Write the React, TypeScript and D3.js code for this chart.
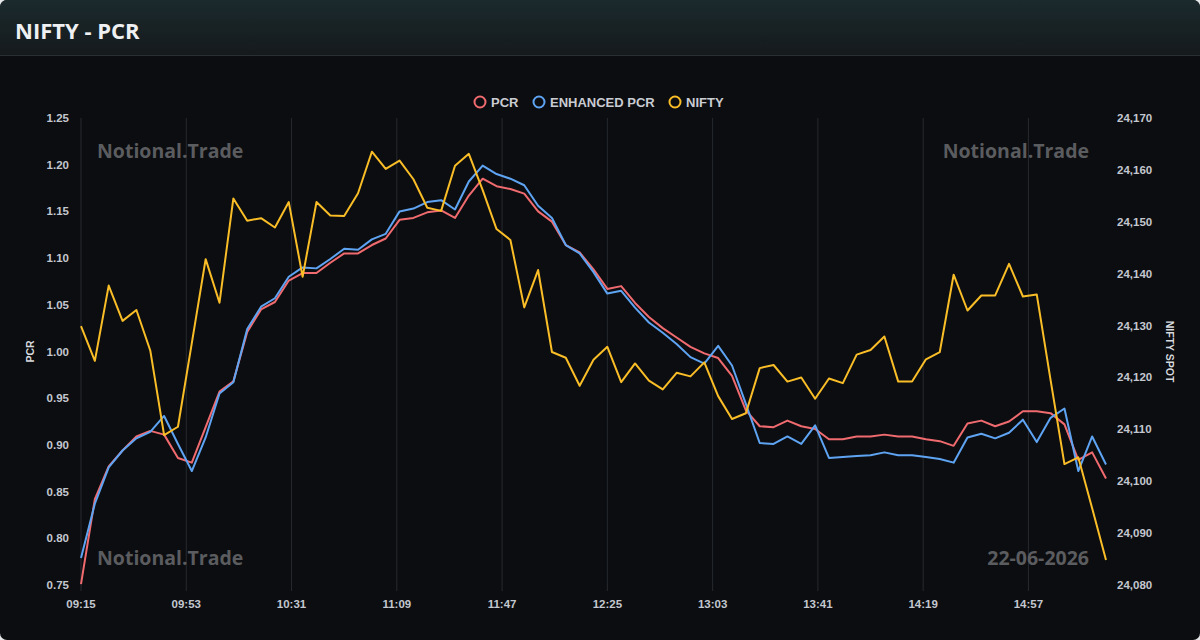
import React, { useEffect, useRef } from "react";
import * as d3 from "d3";

// 5-minute samples from 09:15 to 15:25
const START_MIN = 9 * 60 + 15;
const STEP_MIN = 5;

const pcr = [
  0.751, 0.842, 0.877, 0.894, 0.909, 0.915, 0.911, 0.886, 0.881, 0.919,
  0.957, 0.968, 1.021, 1.045, 1.053, 1.076, 1.084, 1.084, 1.095, 1.105,
  1.105, 1.114, 1.121, 1.141, 1.143, 1.149, 1.151, 1.143, 1.167, 1.185,
  1.177, 1.174, 1.169, 1.150, 1.139, 1.114, 1.106, 1.088, 1.067, 1.070,
  1.052, 1.037, 1.025, 1.015, 1.005, 0.998, 0.993, 0.974, 0.937, 0.920,
  0.919, 0.926, 0.920, 0.917, 0.906, 0.906, 0.909, 0.909, 0.911, 0.909,
  0.909, 0.906, 0.904, 0.899, 0.923, 0.926, 0.920, 0.925, 0.936, 0.936,
  0.934, 0.922, 0.884, 0.892, 0.864,
];

const enhancedPcr = [
  0.779, 0.837, 0.876, 0.894, 0.907, 0.914, 0.931, 0.901, 0.872, 0.908,
  0.955, 0.967, 1.024, 1.048, 1.057, 1.080, 1.090, 1.089, 1.099, 1.110,
  1.109, 1.120, 1.126, 1.150, 1.153, 1.160, 1.162, 1.152, 1.182, 1.199,
  1.190, 1.185, 1.178, 1.156, 1.143, 1.114, 1.105, 1.085, 1.062, 1.065,
  1.047, 1.031, 1.020, 1.008, 0.994, 0.987, 1.006, 0.985, 0.944, 0.902,
  0.901, 0.909, 0.901, 0.921, 0.886, 0.887, 0.888, 0.889, 0.892, 0.889,
  0.889, 0.887, 0.885, 0.881, 0.908, 0.912, 0.907, 0.913, 0.927, 0.903,
  0.929, 0.939, 0.872, 0.909, 0.879,
];

const nifty = [
  24129.9, 24123.2, 24137.7, 24130.9, 24133.0, 24125.2, 24108.9, 24110.5, 24126.6, 24142.8,
  24134.4, 24154.5, 24150.2, 24150.7, 24148.9, 24153.8, 24139.4, 24153.8, 24151.2, 24151.1,
  24155.5, 24163.5, 24160.2, 24161.8, 24158.2, 24152.7, 24152.1, 24160.8, 24163.1, 24156.1,
  24148.6, 24146.5, 24133.5, 24140.7, 24124.9, 24123.8, 24118.4, 24123.4, 24125.9, 24119.1,
  24122.7, 24119.4, 24117.7, 24120.9, 24120.2, 24122.9, 24116.4, 24112.0, 24113.1, 24121.8,
  24122.4, 24119.2, 24120.0, 24115.9, 24119.8, 24118.9, 24124.4, 24125.3, 24127.9, 24119.2,
  24119.2, 24123.5, 24124.9, 24139.8, 24132.9, 24135.8, 24135.8, 24141.9, 24135.6, 24136.0,
  24119.5, 24103.3, 24104.6, 24094.8, 24084.8,
];

const xTickLabels = ["09:15", "09:53", "10:31", "11:09", "11:47", "12:25", "13:03", "13:41", "14:19", "14:57"];
const pcrTicks = [0.75, 0.8, 0.85, 0.9, 0.95, 1.0, 1.05, 1.1, 1.15, 1.2, 1.25];
const niftyTicks = [24080, 24090, 24100, 24110, 24120, 24130, 24140, 24150, 24160, 24170];

const series = [
  { name: "PCR", values: pcr, color: "#f06b6f", axis: "left" },
  { name: "ENHANCED PCR", values: enhancedPcr, color: "#5ea4f3", axis: "left" },
  { name: "NIFTY", values: nifty, color: "#f9bd27", axis: "right" },
];

const W = 1200;
const H = 640;
const plot = { left: 81, right: 1106, top: 118, bottom: 585 };

const toMin = (s: string) => {
  const [h, m] = s.split(":").map(Number);
  return h * 60 + m;
};

export default function App() {
  const ref = useRef<SVGGElement>(null);

  useEffect(() => {
    const g = d3.select(ref.current);
    g.selectAll("*").remove();

    const n = pcr.length;
    const x = d3
      .scaleLinear()
      .domain([START_MIN, START_MIN + (n - 1) * STEP_MIN])
      .range([plot.left, plot.right]);
    const yL = d3.scaleLinear().domain([0.75, 1.25]).range([plot.bottom, plot.top]);
    const yR = d3.scaleLinear().domain([24080, 24170]).range([plot.bottom, plot.top]);

    const tickFont = "'Liberation Sans', Arial, sans-serif";

    // vertical grid
    g.append("g")
      .selectAll("line")
      .data(xTickLabels)
      .join("line")
      .attr("x1", (d) => x(toMin(d)))
      .attr("x2", (d) => x(toMin(d)))
      .attr("y1", plot.top)
      .attr("y2", plot.bottom + 6)
      .attr("stroke", "#262a30")
      .attr("stroke-width", 1);

    // x labels
    g.append("g")
      .selectAll("text")
      .data(xTickLabels)
      .join("text")
      .attr("x", (d) => x(toMin(d)))
      .attr("y", 608)
      .attr("text-anchor", "middle")
      .attr("font-family", tickFont)
      .attr("font-size", 11.5)
      .attr("font-weight", 600)
      .attr("fill", "#c3c7cf")
      .text((d) => d);

    // left axis
    g.append("g")
      .selectAll("text")
      .data(pcrTicks)
      .join("text")
      .attr("x", 69)
      .attr("y", (d) => yL(d) + 4)
      .attr("text-anchor", "end")
      .attr("font-family", tickFont)
      .attr("font-size", 11.5)
      .attr("font-weight", 600)
      .attr("fill", "#c3c7cf")
      .text((d) => d3.format(".2f")(d));

    // right axis
    g.append("g")
      .selectAll("text")
      .data(niftyTicks)
      .join("text")
      .attr("x", 1117)
      .attr("y", (d) => yR(d) + 4)
      .attr("text-anchor", "start")
      .attr("font-family", tickFont)
      .attr("font-size", 11.5)
      .attr("font-weight", 600)
      .attr("fill", "#c3c7cf")
      .text((d) => d3.format(",")(d));

    g.append("text")
      .attr("transform", `translate(34,${(plot.top + plot.bottom) / 2}) rotate(-90)`)
      .attr("text-anchor", "middle")
      .attr("font-family", tickFont)
      .attr("font-size", 10.5)
      .attr("font-weight", 600)
      .attr("fill", "#d6d9de")
      .text("PCR");

    g.append("text")
      .attr("transform", `translate(1166,${(plot.top + plot.bottom) / 2}) rotate(90)`)
      .attr("text-anchor", "middle")
      .attr("font-family", tickFont)
      .attr("font-size", 10.5)
      .attr("font-weight", 600)
      .attr("fill", "#d6d9de")
      .text("NIFTY SPOT");

    // watermarks
    const wm = g.append("g")
      .attr("font-family", "'Open Sans', 'Noto Sans', sans-serif")
      .attr("font-weight", 700)
      .attr("font-size", 19.5)
      .attr("fill", "#5b5c5f");
    wm.append("text").attr("x", 97).attr("y", 158).text("Notional.Trade");
    wm.append("text").attr("x", 1089).attr("y", 158).attr("text-anchor", "end").text("Notional.Trade");
    wm.append("text").attr("x", 97).attr("y", 565).text("Notional.Trade");
    wm.append("text").attr("x", 1089).attr("y", 565).attr("text-anchor", "end").text("22-06-2026");

    // lines
    series.forEach((s) => {
      const y = s.axis === "left" ? yL : yR;
      const line = d3
        .line<number>()
        .x((_, i) => x(START_MIN + i * STEP_MIN))
        .y((d) => y(d))
        .curve(d3.curveLinear);
      g.append("path")
        .datum(s.values)
        .attr("d", line)
        .attr("fill", "none")
        .attr("stroke", s.color)
        .attr("stroke-width", 2)
        .attr("stroke-linejoin", "round");
    });

    // legend
    const legendItems = [
      { x: 480, s: series[0] },
      { x: 539, s: series[1] },
      { x: 675, s: series[2] },
    ];
    const lg = g.append("g");
    legendItems.forEach(({ x: lx, s }) => {
      lg.append("circle")
        .attr("cx", lx)
        .attr("cy", 102)
        .attr("r", 5.5)
        .attr("fill", "none")
        .attr("stroke", s.color)
        .attr("stroke-width", 2);
      lg.append("text")
        .attr("x", lx + 11)
        .attr("y", 106.5)
        .attr("font-family", tickFont)
        .attr("font-size", 13)
        .attr("font-weight", 700)
        .attr("fill", "#c9ccd3")
        .text(s.name);
    });
  }, []);

  return (
    <div style={{ position: "fixed", left: 0, top: 0, width: W, height: H, background: "#e6e7e8" }}>
      <svg width={W} height={H} style={{ display: "block" }}>
        <defs>
          <linearGradient id="hdr" x1="0" y1="0" x2="0" y2="1">
            <stop offset="0%" stopColor="#1b2a2d" />
            <stop offset="100%" stopColor="#15191c" />
          </linearGradient>
          <clipPath id="card">
            <rect x={0} y={0} width={W} height={H} rx={7} />
          </clipPath>
        </defs>
        <g clipPath="url(#card)">
          <rect x={0} y={0} width={W} height={H} fill="#0c0d10" />
          <rect x={0} y={0} width={W} height={56} fill="url(#hdr)" />
          <line x1={0} x2={W} y1={55.5} y2={55.5} stroke="#283033" />
          <text
            x={15}
            y={38.5}
            fontFamily="'Open Sans', 'Noto Sans', sans-serif"
            fontWeight={700}
            fontSize={22}
            fill="#eef0f2"
          >
            NIFTY - PCR
          </text>
          <g ref={ref} />
        </g>
      </svg>
    </div>
  );
}
